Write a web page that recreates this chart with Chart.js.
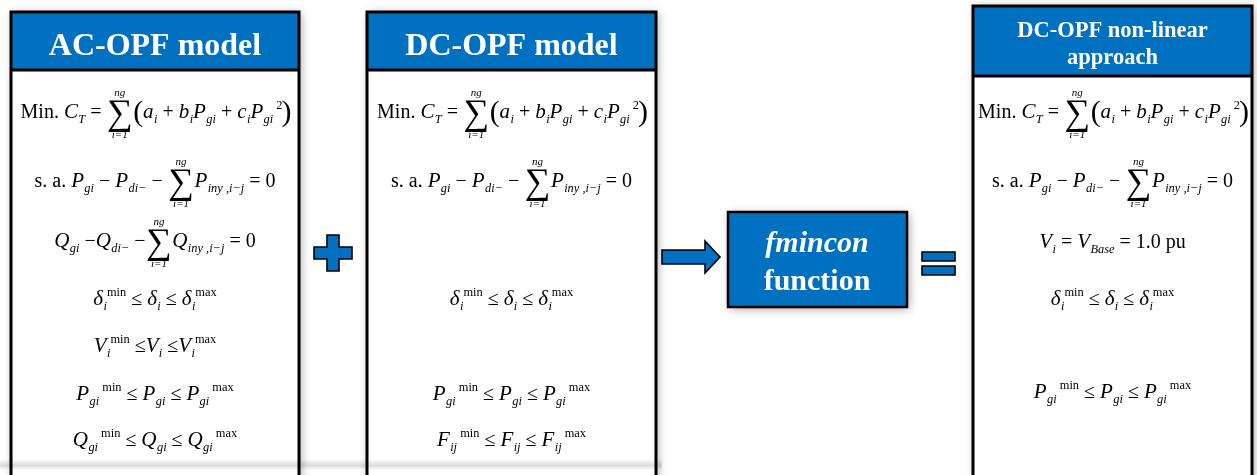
<!DOCTYPE html>
<html>
<head>
<meta charset="utf-8">
<script src="https://cdn.jsdelivr.net/npm/chart.js@4"></script>
<style>
  html, body { margin: 0; padding: 0; background: #fff; }
  #wrap { width: 1257px; height: 475px; }
</style>
</head>
<body>
<div id="wrap"><canvas id="diagram"></canvas></div>
<script>
// ---- content ----
const modelTitles = [["AC-OPF model"], ["DC-OPF model"], ["DC-OPF non-linear", "approach"]];
const solverLines = ["fmincon", "function"];

// equation tokens: [text, kind, over, under]
const objective = [["Min. ", "r"], ["C", "v"], ["T", "sub"], [" = ", "op"], ["∑", "sum", "ng", "i=1"], ["(", "big"],
  ["a", "v"], ["i", "sub"], [" + ", "op"], ["b", "v"], ["i", "sub"], ["P", "v"], ["gi", "sub"], [" + ", "op"],
  ["c", "v"], ["i", "sub"], ["P", "v"], ["gi", "sub"], ["2", "sup"], [")", "big"]];
const activeBalance = [["s. a. ", "r"], ["P", "v"], ["gi", "sub"], [" − ", "op"], ["P", "v"], ["di−", "sub"], [" − ", "op"],
  ["∑", "sum", "ng", "i=1"], ["P", "v"], ["iny ,i−j", "sub"], [" = 0", "r"]];
const reactiveBalance = [["Q", "v"], ["gi", "sub"], [" −", "op"], ["Q", "v"], ["di−", "sub"], [" −", "op"],
  ["∑", "sum", "ng", "i=1"], ["Q", "v"], ["iny ,i−j", "sub"], [" = 0", "r"]];
const angleLimits = [["δ", "v"], ["i", "sub"], ["min", "sup"], [" ≤ ", "op"], ["δ", "v"], ["i", "sub"], [" ≤ ", "op"], ["δ", "v"], ["i", "sub"], ["max", "sup"]];
const voltageLimits = [["V", "v"], ["i", "sub"], ["min", "sup"], [" ≤", "op"], ["V", "v"], ["i", "sub"], [" ≤", "op"], ["V", "v"], ["i", "sub"], ["max", "sup"]];
const genPLimits = [["P", "v"], ["gi", "sub"], [" min", "sup"], [" ≤ ", "op"], ["P", "v"], ["gi", "sub"], [" ≤ ", "op"], ["P", "v"], ["gi", "sub"], [" max", "sup"]];
const genQLimits = [["Q", "v"], ["gi", "sub"], [" min", "sup"], [" ≤ ", "op"], ["Q", "v"], ["gi", "sub"], [" ≤ ", "op"], ["Q", "v"], ["gi", "sub"], [" max", "sup"]];
const flowLimits = [["F", "v"], ["ij", "sub"], [" min", "sup"], [" ≤ ", "op"], ["F", "v"], ["ij", "sub"], [" ≤ ", "op"], ["F", "v"], ["ij", "sub"], [" max", "sup"]];
const flatVoltage = [["V", "v"], ["i", "sub"], [" = ", "op"], ["V", "v"], ["Base", "sub"], [" = 1.0 pu", "r"]];

const acModel = [objective, activeBalance, reactiveBalance, angleLimits, voltageLimits, genPLimits, genQLimits];
const dcModel = [objective, activeBalance, angleLimits, genPLimits, flowLimits];
const nlModel = [objective, activeBalance, flatVoltage, angleLimits, genPLimits];
const models = [acModel, dcModel, nlModel];

// ---- layout (diagram units = pixels of the 1257x475 frame) ----
const boxes = [
  { x0: 11, x1: 299, top: 12, head: 70, lines: [118, 187, 247, 305, 352, 400, 446] },
  { x0: 367, x1: 656, top: 12, head: 70, lines: [118, 187, 305, 400, 446] },
  { x0: 973, x1: 1252, top: 6, head: 76, lines: [118, 187, 248, 305, 398] }
];
const BLUE = "#0070C0";
const SERIF = '"Liberation Serif", "DejaVu Serif", serif';

function drawEquation(ctx, tokens, cx, base, size) {
  const small = size * 0.62;
  const fontFor = (k) => {
    if (k === "v") return `italic ${size * 1.05}px ${SERIF}`;
    if (k === "sub") return `italic ${small}px ${SERIF}`;
    if (k === "sup") return `${small}px ${SERIF}`;
    if (k === "sum") return `${size * 1.8}px ${SERIF}`;
    if (k === "big") return `${size * 1.5}px ${SERIF}`;
    return `${size}px ${SERIF}`;
  };
  const widths = tokens.map((t) => {
    ctx.font = fontFor(t[1]);
    let w = ctx.measureText(t[0]).width;
    if (t[1] === "v") w += size * 0.02;
    if (t[1] === "sum") {
      ctx.font = `${size * 0.55}px ${SERIF}`;
      w = Math.max(w, ctx.measureText(t[2]).width, ctx.measureText(t[3]).width) + 1;
    }
    return w;
  });
  let x = cx - widths.reduce((a, b) => a + b, 0) / 2;
  ctx.fillStyle = "#000";
  ctx.textBaseline = "alphabetic";
  tokens.forEach((t, i) => {
    const k = t[1];
    ctx.font = fontFor(k);
    ctx.textAlign = "left";
    if (k === "sub") ctx.fillText(t[0], x, base + size * 0.26);
    else if (k === "sup") ctx.fillText(t[0], x + (t[0] === "2" ? 3 : 0), base - size * 0.45);
    else if (k === "sum") {
      const mid = x + widths[i] / 2;
      ctx.textAlign = "center";
      ctx.fillText(t[0], mid, base + size * 0.28);
      ctx.font = `italic ${size * 0.55}px ${SERIF}`;
      ctx.fillText(t[2], mid, base - size * 1.12);
      ctx.fillText(t[3], mid, base + size * 1.02);
    } else if (k === "big") ctx.fillText(t[0], x + (t[0] === ")" ? 2 : 0), base + size * 0.17);
    else ctx.fillText(t[0], x, base);
    x += widths[i];
  });
}

const diagramPlugin = {
  id: "opfDiagram",
  afterDraw(chart) {
    const ctx = chart.ctx;
    const X = (v) => chart.scales.x.getPixelForValue(v);
    const Y = (v) => chart.scales.y.getPixelForValue(v);
    ctx.save();

    // panel bodies with soft shadow
    boxes.forEach((b) => {
      ctx.save();
      ctx.shadowColor = "rgba(0,0,0,0.35)";
      ctx.shadowBlur = 9;
      ctx.shadowOffsetX = 2;
      ctx.shadowOffsetY = 1;
      ctx.fillStyle = "#fff";
      ctx.fillRect(X(b.x0), Y(b.top), X(b.x1) - X(b.x0), Y(495) - Y(b.top));
      ctx.restore();
    });

    // soft shadow strip along the bottom of the left panels
    const g = ctx.createLinearGradient(0, Y(459), 0, Y(470));
    g.addColorStop(0, "rgba(0,0,0,0)");
    g.addColorStop(0.6, "rgba(0,0,0,0.14)");
    g.addColorStop(1, "rgba(0,0,0,0)");
    ctx.fillStyle = g;
    ctx.fillRect(X(0), Y(459), X(662) - X(0), Y(470) - Y(459));

    boxes.forEach((b, bi) => {
      const x0 = X(b.x0), x1 = X(b.x1), top = Y(b.top), head = Y(b.head), bottom = Y(495);
      ctx.fillStyle = BLUE;
      ctx.fillRect(x0, top, x1 - x0, head - top);
      ctx.strokeStyle = "#000";
      ctx.lineWidth = 3;
      ctx.beginPath();
      ctx.moveTo(x0, bottom); ctx.lineTo(x0, top); ctx.lineTo(x1, top); ctx.lineTo(x1, bottom);
      ctx.moveTo(x0, head); ctx.lineTo(x1, head);
      ctx.stroke();

      // title
      const title = modelTitles[bi];
      const cx = (x0 + x1) / 2;
      ctx.fillStyle = "#fff";
      ctx.textAlign = "center";
      if (title.length === 1) {
        ctx.font = `bold 32px ${SERIF}`;
        ctx.fillText(title[0], cx, Y(55));
      } else {
        ctx.font = `bold 22.5px ${SERIF}`;
        ctx.fillText(title[0], cx, Y(37));
        ctx.fillText(title[1], cx, Y(64));
      }

      models[bi].forEach((eq, ei) => drawEquation(ctx, eq, cx, Y(b.lines[ei]), 20));
    });

    const shape = (pts) => {
      ctx.beginPath();
      pts.forEach((p, i) => (i ? ctx.lineTo(X(p[0]), Y(p[1])) : ctx.moveTo(X(p[0]), Y(p[1]))));
      ctx.closePath();
      ctx.fillStyle = BLUE;
      ctx.fill();
      ctx.strokeStyle = "#000";
      ctx.lineWidth = 1.6;
      ctx.stroke();
    };
    // plus
    shape([[327, 235], [339, 235], [339, 247], [352, 247], [352, 259], [339, 259], [339, 271], [327, 271],
      [327, 259], [314, 259], [314, 247], [327, 247]]);
    // arrow
    shape([[662, 250], [705, 250], [705, 241], [720, 257], [705, 273], [705, 264], [662, 264]]);
    // equals
    shape([[922, 252], [955, 252], [955, 261], [922, 261]]);
    shape([[922, 266], [955, 266], [955, 275], [922, 275]]);

    // solver box
    ctx.save();
    ctx.shadowColor = "rgba(0,0,0,0.35)";
    ctx.shadowBlur = 9;
    ctx.shadowOffsetX = 2;
    ctx.shadowOffsetY = 2;
    ctx.fillStyle = BLUE;
    ctx.fillRect(X(728), Y(212), X(907) - X(728), Y(307) - Y(212));
    ctx.restore();
    ctx.strokeStyle = "#000";
    ctx.lineWidth = 2.5;
    ctx.strokeRect(X(728), Y(212), X(907) - X(728), Y(307) - Y(212));
    ctx.fillStyle = "#fff";
    ctx.textAlign = "center";
    ctx.font = `bold italic 30px ${SERIF}`;
    ctx.fillText(solverLines[0], X(817), Y(252));
    ctx.font = `bold 30px ${SERIF}`;
    ctx.fillText(solverLines[1], X(817), Y(290));

    ctx.restore();
  }
};

new Chart(document.getElementById("diagram"), {
  type: "scatter",
  data: { datasets: [] },
  options: {
    responsive: true,
    maintainAspectRatio: false,
    animation: false,
    layout: { padding: 0 },
    plugins: { legend: { display: false }, tooltip: { enabled: false } },
    scales: {
      x: { type: "linear", min: 0, max: 1257, display: false },
      y: { type: "linear", min: 0, max: 475, reverse: true, display: false }
    }
  },
  plugins: [diagramPlugin]
});
</script>
</body>
</html>
